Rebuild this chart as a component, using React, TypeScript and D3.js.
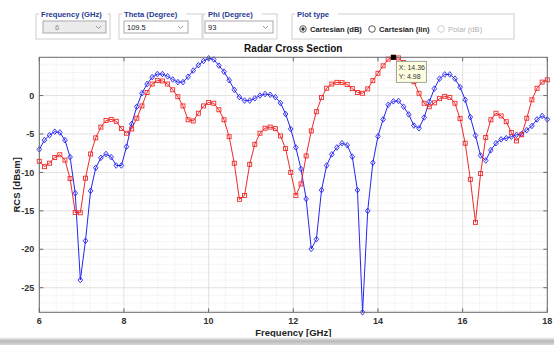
import React from 'react';
import * as d3 from 'd3';

const W = 554;
const H = 345;
const MARGIN = { top: 57.3, right: 6.7, bottom: 32.7, left: 39.3 };

// frequency sweep: 100 samples from 6 to 18 GHz
const F_START = 6;
const F_END = 18;
const N_SAMPLES = 100;
const freqs = d3.range(N_SAMPLES).map((i) => F_START + (i * (F_END - F_START)) / (N_SAMPLES - 1));

// blue diamonds
const rcsBlue = [
  -7.0, -5.8, -5.15, -4.7, -4.8, -5.8, -8.0, -12.7, -24.0, -18.9,
  -12.4, -9.4, -8.1, -7.6, -8.0, -9.1, -9.1, -6.65, -3.7, -1.45,
  0.3, 1.5, 2.4, 2.8, 2.8, 2.5, 2.1, 1.75, 1.75, 2.45,
  3.25, 3.95, 4.5, 4.85, 4.7, 3.9, 3.1, 2.0, 0.75, -0.2,
  -0.65, -0.65, -0.35, 0.0, 0.2, 0.1, -0.2, -0.95, -2.4, -4.35,
  -6.75, -9.55, -13.45, -19.95, -18.7, -12.3, -9.1, -7.65, -6.75, -6.2,
  -6.45, -7.95, -12.3, -28.2, -15.0, -8.75, -5.3, -3.1, -1.2, -0.75,
  -0.7, -1.45, -2.45, -3.9, -4.25, -2.85, -0.8, 0.9, 2.2, 2.75,
  2.75, 2.2, 1.1, -0.55, -2.8, -5.2, -7.8, -8.45, -7.1, -6.2,
  -5.7, -5.55, -5.35, -5.1, -5.0, -4.5, -3.95, -3.1, -2.65, -3.1,
];

// red squares
const rcsRed = [
  -8.55, -9.25, -8.8, -8.05, -7.7, -8.4, -10.8, -15.2, -15.25, -10.75,
  -7.6, -5.5, -4.1, -3.25, -3.1, -3.35, -4.3, -4.9, -4.35, -2.95,
  -1.35, 0.4, 1.5, 1.95, 1.9, 1.5, 0.75, -0.15, -1.35, -3.15,
  -3.3, -2.3, -1.35, -0.9, -1.0, -1.85, -3.15, -5.35, -8.8, -13.5,
  -13.0, -8.95, -6.35, -4.9, -4.25, -4.1, -4.3, -5.25, -6.9, -10.0,
  -13.0, -11.5, -7.85, -4.6, -2.1, -0.25, 0.95, 1.5, 1.72, 1.68,
  1.45, 0.9, 0.4, 0.3, 0.87, 1.95, 2.9, 3.87, 4.74, 4.98,
  4.9, 4.3, 3.2, 1.8, 0.3, -1.0, -1.45, -0.95, -0.4, -0.1,
  -0.25, -1.0, -3.0, -6.2, -10.9, -16.5, -10.15, -5.45, -3.15, -2.3,
  -2.65, -3.4, -4.8, -5.9, -5.1, -2.95, -0.55, 0.95, 1.75, 2.05,
];

const xTicks = [6, 8, 10, 12, 14, 16, 18];
const yTicks = [-25, -20, -15, -10, -5, 0];

// datatip
const TIP_INDEX = 69;

const FONT = '"Liberation Sans", Arial, Helvetica, sans-serif';
const BLUE = '#2626f2';
const RED = '#f02a2a';

const GroupBox = ({ x, y, w, h, title }) => (
  <g>
    <rect x={x} y={y} width={w} height={h} fill="none" stroke="#cfcfcf" strokeWidth={1} />
    <rect x={x + 3} y={y - 5} width={title.length * 4.3 + 4} height={9} fill="#fff" />
    <text x={x + 5} y={y + 2.8} fontFamily={FONT} fontSize={7.6} fontWeight="bold" fill="#1f3c93">
      {title}
    </text>
  </g>
);

const Dropdown = ({ x, y, w, value, disabled }) => (
  <g>
    <rect x={x} y={y} width={w} height={12} fill={disabled ? '#ececec' : '#fff'} stroke="#a9a9a9" />
    <text x={x + (disabled ? 12 : 3)} y={y + 8.8} fontFamily={FONT} fontSize={7.5} fill={disabled ? '#8a8a8a' : '#222'}>
      {value}
    </text>
    <path
      d={`M${x + w - 10},${y + 5} L${x + w - 7.5},${y + 7.5} L${x + w - 5},${y + 5}`}
      fill="none"
      stroke="#8a8a8a"
      strokeWidth={0.9}
    />
  </g>
);

const Radio = ({ x, y, label, checked, disabled }) => (
  <g>
    <circle cx={x} cy={y} r={3.3} fill="#fff" stroke={disabled ? '#c4c4c4' : '#333'} strokeWidth={0.8} />
    {checked && <circle cx={x} cy={y} r={1.7} fill="#333" />}
    <text x={x + 7} y={y + 2.7} fontFamily={FONT} fontSize={7.6} fontWeight={disabled ? 'normal' : 'bold'} fill={disabled ? '#b0b0b0' : '#222'}>
      {label}
    </text>
  </g>
);

export default function App() {
  const boundsW = W - MARGIN.left - MARGIN.right;
  const boundsH = H - MARGIN.top - MARGIN.bottom;

  const xScale = d3.scaleLinear().domain([F_START, F_END]).range([0, boundsW]);
  const yExtent = d3.extent([...rcsBlue, ...rcsRed]);
  const yScale = d3.scaleLinear().domain(yExtent).range([boundsH, 0]);

  const line = d3
    .line()
    .x((d) => xScale(d[0]))
    .y((d) => yScale(d[1]));

  const bluePts = freqs.map((f, i) => [f, rcsBlue[i]]);
  const redPts = freqs.map((f, i) => [f, rcsRed[i]]);

  // minor grid
  const xMinor = d3.range(F_START, F_END + 0.001, 0.4).filter((v) => !xTicks.some((t) => Math.abs(t - v) < 1e-6));
  const yMinor = d3.range(-28, 5.001, 1).filter((v) => v % 5 !== 0);

  const tipX = xScale(freqs[TIP_INDEX]);
  const tipY = yScale(rcsRed[TIP_INDEX]);

  return (
    <svg width={W} height={H} style={{ position: 'absolute', left: 0, top: 0, background: '#fff' }}>
      <defs>
        <linearGradient id="shadow" x1="0" y1="0" x2="0" y2="1">
          <stop offset="0" stopColor="#fff" />
          <stop offset="0.5" stopColor="#b8b8b8" />
          <stop offset="1" stopColor="#d8d8d8" />
        </linearGradient>
      </defs>

      {/* control panels */}
      <GroupBox x={36} y={14} w={74} h={25} title="Frequency (GHz)" />
      <Dropdown x={43} y={21} w={63} value="6" disabled />
      <GroupBox x={119} y={14} w={83} h={25} title="Theta (Degree)" />
      <Dropdown x={124} y={21} w={64} value="109.5" />
      <GroupBox x={203} y={14} w={74} h={25} title="Phi (Degree)" />
      <Dropdown x={205} y={21} w={68} value="93" />
      <GroupBox x={292} y={14} w={222} h={25} title="Plot type" />
      <Radio x={303} y={29} label="Cartesian (dB)" checked />
      <Radio x={372} y={29} label="Cartesian (lin)" />
      <Radio x={441} y={29} label="Polar (dB)" disabled />

      <text x={MARGIN.left + boundsW / 2} y={51.5} textAnchor="middle" fontFamily={FONT} fontSize={10} fontWeight="bold" fill="#111">
        Radar Cross Section
      </text>

      <g transform={`translate(${MARGIN.left},${MARGIN.top})`}>
        <rect width={boundsW} height={boundsH} fill="#fff" />
        {xMinor.map((v) => (
          <line key={'xm' + v} x1={xScale(v)} x2={xScale(v)} y1={0} y2={boundsH} stroke="#dedede" strokeDasharray="1,1.5" strokeWidth={0.7} />
        ))}
        {yMinor.map((v) => (
          <line key={'ym' + v} x1={0} x2={boundsW} y1={yScale(v)} y2={yScale(v)} stroke="#dedede" strokeDasharray="1,1.5" strokeWidth={0.7} />
        ))}
        {xTicks.map((t) => (
          <line key={'xg' + t} x1={xScale(t)} x2={xScale(t)} y1={0} y2={boundsH} stroke="#d9d9d9" strokeWidth={0.8} />
        ))}
        {yTicks.map((t) => (
          <line key={'yg' + t} x1={0} x2={boundsW} y1={yScale(t)} y2={yScale(t)} stroke="#d9d9d9" strokeWidth={0.8} />
        ))}

        {/* series */}
        <path d={line(bluePts)} fill="none" stroke={BLUE} strokeWidth={1} />
        <path d={line(redPts)} fill="none" stroke={RED} strokeWidth={1} />
        {bluePts.map((d, i) => {
          const cx = xScale(d[0]);
          const cy = yScale(d[1]);
          return (
            <path key={'b' + i} d={`M${cx},${cy - 2.8}L${cx + 2.3},${cy}L${cx},${cy + 2.8}L${cx - 2.3},${cy}Z`} fill="none" stroke={BLUE} strokeWidth={0.9} />
          );
        })}
        {redPts.map((d, i) => (
          <rect key={'r' + i} x={xScale(d[0]) - 2} y={yScale(d[1]) - 2} width={4} height={4} fill="none" stroke={RED} strokeWidth={0.9} />
        ))}

        {/* axes box and inward ticks */}
        <rect width={boundsW} height={boundsH} fill="none" stroke="#6a6a6a" strokeWidth={1} />
        {xTicks.map((t) => (
          <g key={'xt' + t}>
            <line x1={xScale(t)} x2={xScale(t)} y1={boundsH} y2={boundsH - 4} stroke="#6a6a6a" />
            <line x1={xScale(t)} x2={xScale(t)} y1={0} y2={4} stroke="#6a6a6a" />
            <text x={xScale(t)} y={boundsH + 11.5} textAnchor="middle" fontFamily={FONT} fontSize={9} fontWeight="bold" fill="#333">
              {t}
            </text>
          </g>
        ))}
        {yTicks.map((t) => (
          <g key={'yt' + t}>
            <line x1={0} x2={4} y1={yScale(t)} y2={yScale(t)} stroke="#6a6a6a" />
            <line x1={boundsW} x2={boundsW - 4} y1={yScale(t)} y2={yScale(t)} stroke="#6a6a6a" />
            <text x={-5} y={yScale(t) + 3.2} textAnchor="end" fontFamily={FONT} fontSize={9} fontWeight="bold" fill="#333">
              {t}
            </text>
          </g>
        ))}

        {/* datatip */}
        <rect x={tipX - 2.5} y={tipY - 2.5} width={5} height={5} fill="#000" />
        <rect x={tipX + 3} y={tipY + 4} width={30} height={21} fill="#ffffe0" stroke="#8a8a8a" strokeWidth={0.8} />
        <text x={tipX + 5.5} y={tipY + 13} fontFamily={FONT} fontSize={7} fill="#333">
          X: {freqs[TIP_INDEX].toFixed(2)}
        </text>
        <text x={tipX + 5.5} y={tipY + 22} fontFamily={FONT} fontSize={7} fill="#333">
          Y: {rcsRed[TIP_INDEX].toFixed(2)}
        </text>
      </g>

      <text x={MARGIN.left + boundsW / 2} y={335.5} textAnchor="middle" fontFamily={FONT} fontSize={9.5} fontWeight="bold" fill="#222">
        Frequency [GHz]
      </text>
      <text
        transform={`translate(20,${MARGIN.top + boundsH / 2}) rotate(-90)`}
        textAnchor="middle"
        fontFamily={FONT}
        fontSize={9.5}
        fontWeight="bold"
        fill="#222"
      >
        RCS [dBsm]
      </text>

      <rect x={0} y={337} width={W} height={8} fill="url(#shadow)" />
    </svg>
  );
}
